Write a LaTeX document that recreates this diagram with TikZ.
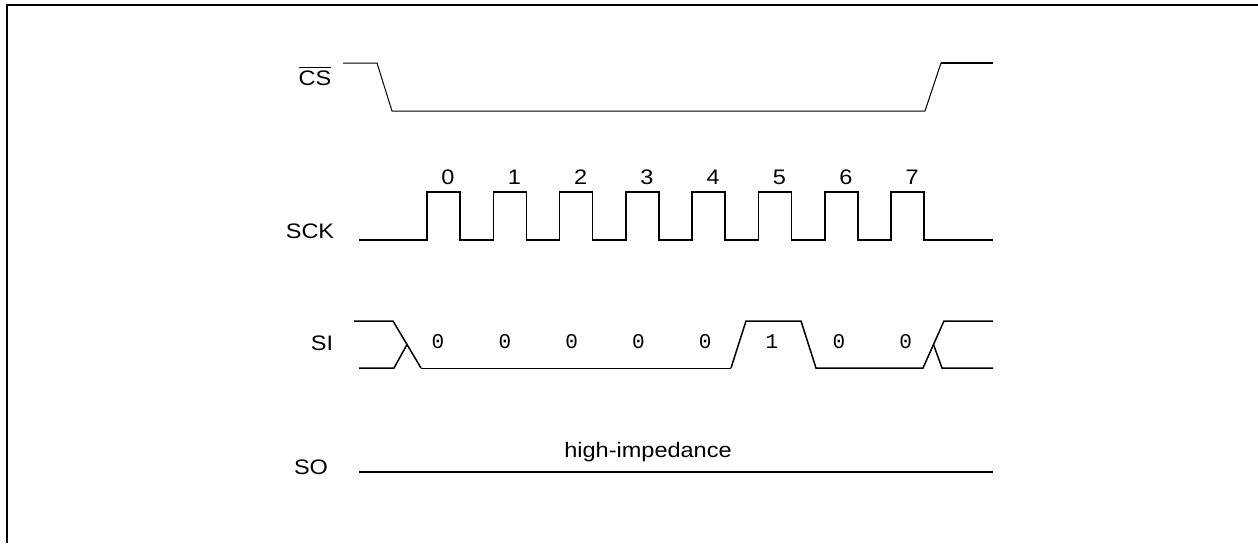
\documentclass[tikz,border=0pt]{standalone}
\usepackage{fontspec}
\setmainfont{Liberation Sans}[FakeStretch=1.12]
\newfontfamily\bitfont{Liberation Mono}
\usetikzlibrary{calc}

\begin{document}
\begin{tikzpicture}[x=0.5pt, y=-0.5pt,
        wave/.style={line width=0.75pt},
        thinwave/.style={line width=0.5pt},
        sig/.style={font=\fontsize{10.5}{12}\selectfont, inner sep=0pt},
        bit/.style={font=\bitfont\fontsize{10.5}{12}\selectfont, inner sep=0pt}]
    \useasboundingbox (0,0) rectangle (1258,543);
    % Frame
    \path (7,543) coordinate (F1);
    \path (7,5) coordinate (F2);
    \path (1258,5) coordinate (F3);
    \draw[line width=1pt] (F1) -- (F2) -- (F3);

    % CS
    \path (343,63) coordinate (CS0);
    \path (377,63) coordinate (CS1);
    \path (392,111) coordinate (CS2);
    \path (925,111) coordinate (CS3);
    \path (941,63) coordinate (CS4);
    \path (993,63) coordinate (CS5);
    \draw[thinwave] (CS0) -- (CS1) -- (CS2) -- (CS3) -- (CS4);
    \draw[wave] (CS4) -- (CS5);
    \node[sig] (cs) at (315,76) {$\overline{\mbox{CS}}$};

    % SCK
    \draw[wave] (359,240)
        \foreach \i in {0,...,7} {
            -- ({427+66.3*\i},240) -- ({427+66.3*\i},192)
            -- ({460+66.3*\i},192) -- ({460+66.3*\i},240)
        } -- (993,240);
    \foreach \i in {0,...,7}
        \node[sig] (clk\i) at ({448+66.3*\i},177) {\i};
    \node[sig] (sck) at (310,231) {SCK};

    % SI
    \path (354,321) coordinate (SIa);
    \path (393,321) coordinate (SIb);
    \path (421,368) coordinate (SIc);
    \path (731,368) coordinate (SId);
    \path (746,321) coordinate (SIe);
    \path (801,321) coordinate (SIf);
    \path (816,368) coordinate (SIg);
    \path (923,368) coordinate (SIh);
    \path (944,321) coordinate (SIi);
    \path (993,321) coordinate (SIj);
    \path (359,368) coordinate (SIk);
    \path (394,368) coordinate (SIl);
    \path (942,368) coordinate (SIm);
    \path (993,368) coordinate (SIn);
    \draw[wave] (SIa) -- (SIb) -- (SIc);
    \draw[thinwave] (SIc) -- (SId);
    \draw[wave] (SId) -- (SIe) -- (SIf) -- (SIg) -- (SIh) -- (SIi) -- (SIj);
    \draw[wave] (SIk) -- (SIl) -- ($(SIb)!0.5!(SIc)$);
    \draw[wave] ($(SIh)!0.5!(SIi)$) -- (SIm) -- (SIn);
    \foreach \b [count=\i from 0] in {0,0,0,0,0,1,0,0}
        \node[bit] (bit\i) at ({438+66.8*\i},342) {\b};
    \node[sig] (si) at (322,343) {SI};

    % SO
    \path (359,472) coordinate (SO0);
    \path (993,472) coordinate (SO1);
    \draw[line width=1pt] (SO0) -- (SO1);
    \node[sig] (hiz) at (648,452) {high-impedance};
    \node[sig] (so) at (311,467) {SO};
\end{tikzpicture}
\end{document}
